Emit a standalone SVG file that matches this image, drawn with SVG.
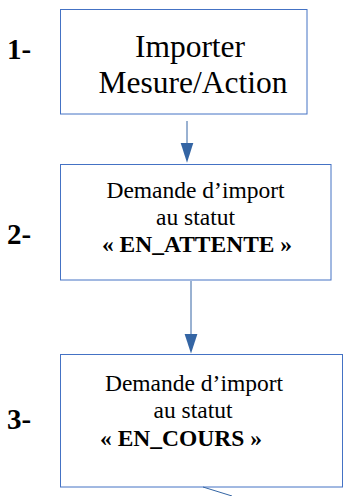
<svg xmlns="http://www.w3.org/2000/svg" width="344" height="496" viewBox="0 0 344 496">
<style>
.box{fill:#ffffff;stroke:#4472c4;stroke-width:1}
.t{font-family:"Liberation Serif","Times New Roman",serif;fill:#000000}
.big{font-size:31.5px}
.mid{font-size:23.5px}
.b{font-weight:bold}
.num{font-family:"Liberation Serif","Times New Roman",serif;font-weight:bold;font-size:29px;fill:#000000}
.line{stroke:#3465a4;stroke-width:1;fill:none}
.head{fill:#3465a4}
</style>
<rect width="344" height="496" fill="#ffffff"/>
<g id="labels">
<text class="num" x="7" y="59">1-</text>
<text class="num" x="7" y="243.5">2-</text>
<text class="num" x="7" y="428.5">3-</text>
</g>
<g id="node1">
<rect class="box" x="60.5" y="9.5" width="246.5" height="104.5"/>
<text class="t big" x="190" y="56.7" text-anchor="middle">Importer</text>
<text class="t big" x="193" y="93.3" text-anchor="middle">Mesure/Action</text>
</g>
<g id="node2">
<rect class="box" x="60.5" y="164.5" width="270.5" height="115.5"/>
<text class="t mid" x="195.5" y="197.5" text-anchor="middle">Demande d’import</text>
<text class="t mid" x="195.5" y="224.5" text-anchor="middle">au statut</text>
<text class="t mid b" x="197" y="252" text-anchor="middle">« EN_ATTENTE »</text>
</g>
<g id="node3">
<rect class="box" x="60.5" y="354.5" width="282" height="132.5"/>
<text class="t mid" x="194" y="391" text-anchor="middle">Demande d’import</text>
<text class="t mid" x="193" y="418" text-anchor="middle">au statut</text>
<text class="t mid b" x="100" y="446">« EN_COURS »</text>
</g>
<g id="connectors">
<line class="line" x1="187" y1="121" x2="187" y2="144"/>
<polygon class="head" points="180.7,143 193.3,143 187,162.7"/>
<line class="line" x1="191" y1="281" x2="191" y2="335"/>
<polygon class="head" points="184.6,334 197.4,334 191,353.5"/>
<line class="line" x1="203" y1="487" x2="232" y2="496"/>
</g>
</svg>
